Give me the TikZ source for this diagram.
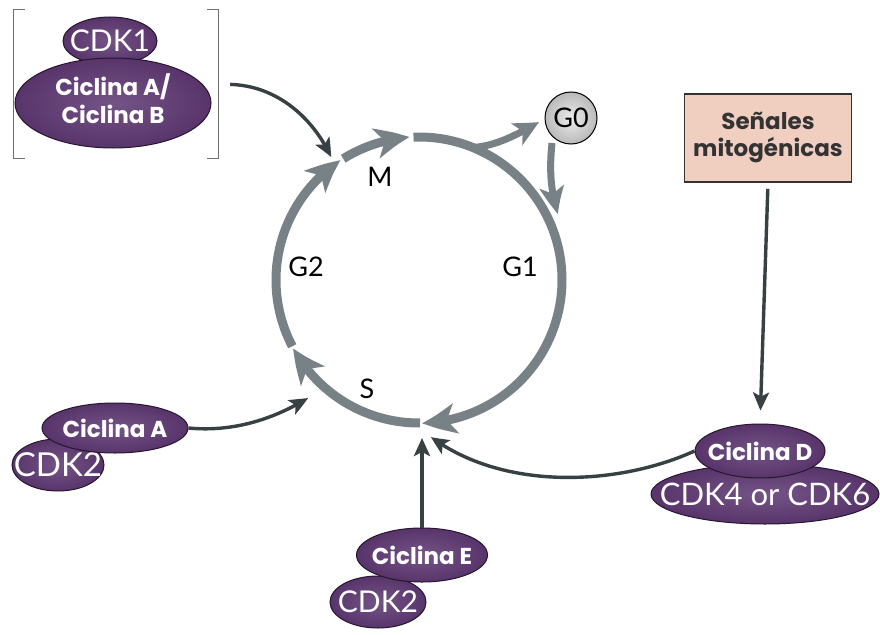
\documentclass[tikz,border=0pt]{standalone}
\usepackage{fontspec}
\newfontfamily\gfont{Poppins}
\newfontfamily\lfont{Lato}
\usetikzlibrary{arrows.meta,bending,shapes.geometric,calc}
\definecolor{cyc}{RGB}{120,129,134}
\definecolor{dk}{RGB}{55,64,66}
\definecolor{purp}{RGB}{88,52,106}
\definecolor{purpL}{RGB}{116,84,134}
\definecolor{purpO}{RGB}{38,22,48}
\definecolor{peach}{RGB}{240,207,192}
\definecolor{brk}{RGB}{110,110,110}
\begin{document}
\begin{tikzpicture}[x=1pt,y=-1pt,
  prot/.style={ellipse, draw=purpO, line width=1pt, inner color=purpL, outer color=purp, inner sep=0pt, text=white},
  cyctext/.style={font=\gfont\bfseries\fontsize{23}{28}\selectfont},
  cdktext/.style={font=\lfont\fontsize{30}{30}\selectfont},
  phase/.style={font=\lfont\fontsize{27}{27}\selectfont, text=black, inner sep=0pt},
  cycline/.style={draw=cyc, line width=9pt},
  cychead/.style={-{Stealth[length=34pt,width=30pt,inset=9pt,bend]}},
  darrow/.style={draw=dk, line width=3.4pt, -{Stealth[length=18pt,width=16pt,inset=4pt,bend]}},
  brack/.style={draw=brk, line width=1.3pt}]
\useasboundingbox (0,0) rectangle (880,634);
\fill[white] (0,0) rectangle (880,634);

% ---- cell cycle circle ----
\coordinate (c) at (419,280);
\path[cycline, cychead] (c) ++(-122:143) arc[start angle=-122, end angle=-93.8, radius=143];
\path[cycline, cychead] (c) ++(-92.2:143) arc[start angle=-92.2, end angle=88.8, radius=143];
\path[cycline, cychead] (c) ++(89.6:143) arc[start angle=89.6, end angle=151.5, radius=143];
\path[cycline, cychead] (c) ++(152.4:143) arc[start angle=152.4, end angle=236.8, radius=143];

\node[phase] (m)  at (380,177) {M};
\node[phase] (g1) at (520,267) {G1};
\node[phase] (g2) at (306,267) {G2};
\node[phase] (s)  at (367,389) {S};

% ---- G0 ----
\node[circle, draw=black, line width=1pt, inner color=gray!15, outer color=gray!55, minimum size=52pt, inner sep=0pt,
      font=\lfont\fontsize{27}{27}\selectfont] (g0) at (571,118) {G0};
\coordinate (br) at ($(c)+(-67.9:143)$);
\coordinate (g0tip) at (539,122);
\coordinate (g0out) at (552,143);
\coordinate (g0in) at (558,214);
\path[draw=cyc, line width=7pt, -{Stealth[length=26pt,width=24pt,inset=7pt,bend]}]
  (br) .. controls (495,146) and (515,136) .. (g0tip);
\path[draw=cyc, line width=7pt, -{Stealth[length=28pt,width=24pt,inset=7pt,bend]}]
  (g0out) .. controls (549,172) and (551,192) .. (g0in);

% ---- CDK1 / Ciclina A/B ----
\node[minimum width=204pt, minimum height=148pt, inner sep=0pt] (abgrp) at (116,84) {};
\draw[brack] ([xshift=11pt]abgrp.north west) -- (abgrp.north west) -- (abgrp.south west) -- ([xshift=11pt]abgrp.south west);
\draw[brack] ([xshift=-11pt]abgrp.north east) -- (abgrp.north east) -- (abgrp.south east) -- ([xshift=-11pt]abgrp.south east);
\node[prot, minimum width=94pt, minimum height=48pt, cdktext] (cdk1) at (110,41) {\makebox[0pt]{CDK1}};
\node[prot, minimum width=196pt, minimum height=90pt, cyctext] (cycab) at (113,103)
  {\makebox[0pt]{\begin{tabular}{@{}c@{}}Ciclina A/\\Ciclina B\end{tabular}}};

% ---- Ciclina A / CDK2 ----
\node[prot, minimum width=92pt, minimum height=52pt, cdktext] (cdk2a) at (58,465) {\makebox[0pt]{\fontsize{33}{33}\selectfont CDK2}};
\node[prot, minimum width=146pt, minimum height=50pt, cyctext] (cyca) at (115,428) {\makebox[0pt]{Ciclina A}};

% ---- Ciclina E / CDK2 ----
\node[prot, minimum width=96pt, minimum height=52pt, cdktext] (cdk2e) at (378,602) {\makebox[0pt]{CDK2}};
\node[prot, minimum width=131pt, minimum height=54pt, cyctext] (cyce) at (422,555) {\makebox[0pt]{Ciclina E}};

% ---- Ciclina D / CDK4-6 ----
\node[prot, minimum width=228pt, minimum height=60pt, cdktext] (cdk46) at (765,494) {\makebox[0pt]{\fontsize{31}{31}\selectfont CDK4 or CDK6}};
\node[prot, minimum width=130pt, minimum height=54pt, cyctext] (cycd) at (760,451) {\makebox[0pt]{Ciclina D}};

% ---- Señales mitogénicas ----
\node[draw=black!80, line width=1.6pt, fill=peach, minimum width=167pt, minimum height=88pt, inner sep=0pt,
      text=black!80, font=\gfont\bfseries\fontsize{23}{27}\selectfont, align=center] (sen) at (768,138)
  {Señales\\mitogénicas};

% ---- connectors ----
\coordinate (tipM) at (331,157);
\coordinate (tipSa) at (308,398);
\coordinate (tipSe) at (422,438);
\coordinate (tipSd) at (431,437);
\draw[darrow, shorten <=12pt] (abgrp.east) .. controls (282,86) and (315,122) .. (tipM);
\draw[darrow] (cyca.east) .. controls (240,433) and (282,414) .. (tipSa);
\draw[darrow] (cyce.north) -- (tipSe);
\draw[darrow] (cycd.west) .. controls (620,485) and (505,492) .. (tipSd);
\draw[darrow, shorten <=6pt, shorten >=13pt] (sen.south) -- (cycd.north);
\end{tikzpicture}
\end{document}
